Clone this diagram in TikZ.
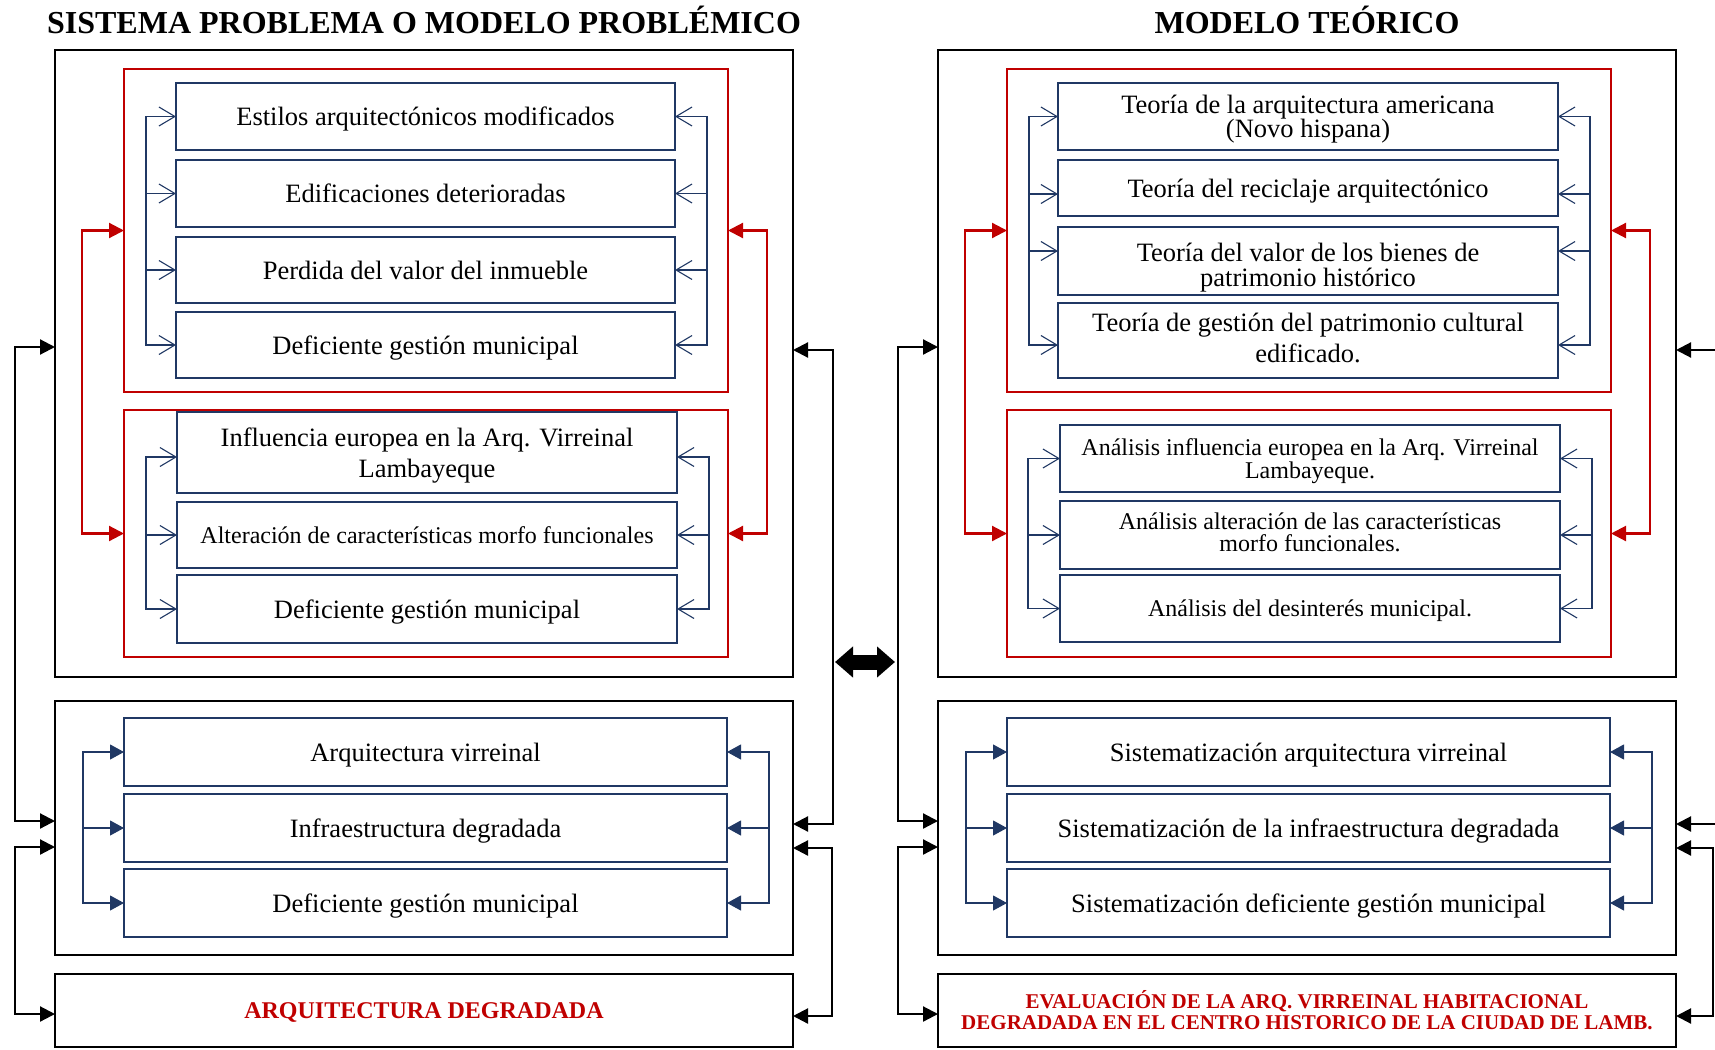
\documentclass[tikz,border=0pt]{standalone}
\usepackage{fontspec}
\setmainfont{Liberation Serif}
\usetikzlibrary{arrows.meta}
\definecolor{navy}{RGB}{32,56,100}
\definecolor{dred}{RGB}{192,0,0}
\newcommand\mytightlines{\lineskiplimit=-50pt\relax}
\begin{document}
\begin{tikzpicture}[x=1pt,y=-1pt,
  box/.style={draw=navy, line width=1.3pt, rectangle, outer sep=0pt, inner sep=2pt, text depth=0pt,
    anchor=north west, align=center, font=\fontsize{26.5}{28}\selectfont, text=black},
  smallbox/.style={box, font=\fontsize{24}{23}\selectfont},
  frame/.style={draw=black, line width=2.2pt, rectangle, outer sep=0pt, anchor=north west},
  redframe/.style={draw=dred, line width=2.2pt, rectangle, outer sep=0pt, anchor=north west},
  blk/.style={draw=black, line width=2.2pt, {Triangle[length=15pt,width=15pt]}-{Triangle[length=15pt,width=15pt]}},
  redarr/.style={draw=dred, line width=2.2pt, {Triangle[length=15pt,width=15pt]}-{Triangle[length=15pt,width=15pt]}},
  blline/.style={draw=navy, line width=1.1pt, line cap=rect},
  blbarb/.style={draw=navy, line width=1.1pt, -{Straight Barb[length=16pt,width=19pt]}},
  bltri/.style={draw=navy, line width=1.1pt, -{Triangle[length=14pt,width=15pt]}},
  title/.style={font=\bfseries\fontsize{32}{34}\selectfont}
]
\useasboundingbox (0,0) rectangle (1715,1049);

% titles
\node[title] (T1) at (424,20) {SISTEMA PROBLEMA O MODELO PROBLÉMICO};
\node[title] (T2) at (1307,20) {MODELO TEÓRICO};

% ---------------- left panel ----------------
\node[frame, minimum width=738pt, minimum height=627pt] (Lo1) at (55,50) {};
\node[redframe, minimum width=604pt, minimum height=323pt] (LR1) at (124,69) {};
\node[redframe, minimum width=604pt, minimum height=247pt] (LR2) at (124,410) {};
\node[box, minimum width=499pt, minimum height=67pt] (L1) at (176,83) {Estilos arquitectónicos modificados};
\node[box, minimum width=499pt, minimum height=67pt] (L2) at (176,160) {Edificaciones deterioradas};
\node[box, minimum width=499pt, minimum height=66pt] (L3) at (176,237) {Perdida del valor del inmueble};
\node[box, minimum width=499pt, minimum height=66pt] (L4) at (176,312) {Deficiente gestión municipal};
\node[box, minimum width=500pt, minimum height=81pt, font=\fontsize{26.5}{31}\selectfont] (L5) at (177,412) {Influencia europea en la Arq. Virreinal\\Lambayeque};
\node[smallbox, minimum width=500pt, minimum height=66pt] (L6) at (177,502) {Alteración de características morfo funcionales};
\node[box, minimum width=500pt, minimum height=68pt] (L7) at (177,575) {Deficiente gestión municipal};
\node[frame, minimum width=738pt, minimum height=254pt] (Lo2) at (55,701) {};
\node[box, minimum width=603pt, minimum height=68pt] (L8) at (124,718) {Arquitectura virreinal};
\node[box, minimum width=603pt, minimum height=68pt] (L9) at (124,794) {Infraestructura degradada};
\node[box, minimum width=603pt, minimum height=68pt] (L10) at (124,869) {Deficiente gestión municipal};
\node[frame, minimum width=738pt, minimum height=73pt, text depth=0pt, text=dred, font=\bfseries\fontsize{24}{26}\selectfont] (LoB) at (55,974) {ARQUITECTURA DEGRADADA};

% ---------------- right panel ----------------
\node[frame, minimum width=738pt, minimum height=627pt] (Ro1) at (938,50) {};
\node[redframe, minimum width=604pt, minimum height=323pt] (RR1) at (1007,69) {};
\node[redframe, minimum width=604pt, minimum height=247pt] (RR2) at (1007,410) {};
\node[box, minimum width=500pt, minimum height=67pt, font=\fontsize{26.5}{24.3}\selectfont\mytightlines] (R1) at (1058,83) {Teoría de la arquitectura americana\\(Novo hispana)};
\node[box, minimum width=500pt, minimum height=56pt] (R2) at (1058,160) {Teoría del reciclaje arquitectónico};
\node[box, minimum width=500pt, minimum height=68pt, font=\fontsize{26.5}{25}\selectfont] (R3) at (1058,227) {\rule{0pt}{25.5pt}Teoría del valor de los bienes de\\patrimonio histórico};
\node[box, minimum width=500pt, minimum height=75pt, text depth=6.4pt, font=\fontsize{26.5}{31}\selectfont] (R4) at (1058,303) {Teoría de gestión del patrimonio cultural\\edificado.};
\node[smallbox, minimum width=500pt, minimum height=67pt] (R5) at (1060,425) {Análisis influencia europea en la Arq. Virreinal\\Lambayeque.};
\node[smallbox, minimum width=500pt, minimum height=68pt, text depth=4.8pt, font=\fontsize{24}{22}\selectfont] (R6) at (1060,501) {Análisis alteración de las características\\morfo funcionales.};
\node[smallbox, minimum width=500pt, minimum height=67pt] (R7) at (1060,575) {Análisis del desinterés municipal.};
\node[frame, minimum width=738pt, minimum height=254pt] (Ro2) at (938,701) {};
\node[box, minimum width=603pt, minimum height=68pt] (R8) at (1007,718) {Sistematización arquitectura virreinal};
\node[box, minimum width=603pt, minimum height=68pt] (R9) at (1007,794) {Sistematización de la infraestructura degradada};
\node[box, minimum width=603pt, minimum height=68pt] (R10) at (1007,869) {Sistematización deficiente gestión municipal};
\node[frame, minimum width=738pt, minimum height=73pt, text=dred, align=center, font=\bfseries\fontsize{21}{21}\selectfont] (RoB) at (938,974) {EVALUACIÓN DE LA ARQ. VIRREINAL HABITACIONAL\\DEGRADADA EN EL CENTRO HISTORICO DE LA CIUDAD DE LAMB.};

% ---------------- blue brackets ----------------
% left top
\foreach \n in {L1,L2,L3,L4}{
  \draw[blbarb] ([xshift=-30pt]\n.west) -- (\n.west);
  \draw[blbarb] ([xshift=32pt]\n.east) -- (\n.east);
}
\draw[blline] ([xshift=-30pt]L1.west) -- ([xshift=-30pt]L4.west);
\draw[blline] ([xshift=32pt]L1.east) -- ([xshift=32pt]L4.east);
% left middle
\foreach \n/\s in {L5/-4.5,L6/0,L7/0}{
  \draw[blbarb] ([xshift=-31pt,yshift=\s pt]\n.west) -- ([yshift=\s pt]\n.west);
  \draw[blbarb] ([xshift=32pt,yshift=\s pt]\n.east) -- ([yshift=\s pt]\n.east);
}
\draw[blline] ([xshift=-31pt,yshift=-4.5pt]L5.west) -- ([xshift=-31pt]L7.west);
\draw[blline] ([xshift=32pt,yshift=-4.5pt]L5.east) -- ([xshift=32pt]L7.east);
% left lower
\foreach \n in {L8,L9,L10}{
  \draw[bltri] ([xshift=-41pt]\n.west) -- (\n.west);
  \draw[bltri] ([xshift=42pt]\n.east) -- (\n.east);
}
\draw[blline] ([xshift=-41pt]L8.west) -- ([xshift=-41pt]L10.west);
\draw[blline] ([xshift=42pt]L8.east) -- ([xshift=42pt]L10.east);

% right top
\foreach \n/\s in {R1/0,R2/-6,R3/10,R4/-4.5}{
  \draw[blbarb] ([xshift=-29pt,yshift=\s pt]\n.west) -- ([yshift=\s pt]\n.west);
  \draw[blbarb] ([xshift=32pt,yshift=\s pt]\n.east) -- ([yshift=\s pt]\n.east);
}
\draw[blline] ([xshift=-29pt]R1.west) -- ([xshift=-29pt,yshift=-4.5pt]R4.west);
\draw[blline] ([xshift=32pt]R1.east) -- ([xshift=32pt,yshift=-4.5pt]R4.east);
% right middle
\foreach \n in {R5,R6,R7}{
  \draw[blbarb] ([xshift=-32pt]\n.west) -- (\n.west);
  \draw[blbarb] ([xshift=32pt]\n.east) -- (\n.east);
}
\draw[blline] ([xshift=-32pt]R5.west) -- ([xshift=-32pt]R7.west);
\draw[blline] ([xshift=32pt]R5.east) -- ([xshift=32pt]R7.east);
% right lower
\foreach \n in {R8,R9,R10}{
  \draw[bltri] ([xshift=-41pt]\n.west) -- (\n.west);
  \draw[bltri] ([xshift=42pt]\n.east) -- (\n.east);
}
\draw[blline] ([xshift=-41pt]R8.west) -- ([xshift=-41pt]R10.west);
\draw[blline] ([xshift=42pt]R8.east) -- ([xshift=42pt]R10.east);

% ---------------- red connectors ----------------
\draw[redarr] (LR1.west) -- ++(-42,0) |- (LR2.west);
\draw[redarr] (LR1.east) -- ++(39,0) |- (LR2.east);
\draw[redarr] (RR1.west) -- ++(-42,0) |- (RR2.west);
\draw[redarr] (RR1.east) -- ++(39,0) |- (RR2.east);

% ---------------- black connectors ----------------
\draw[blk] ([yshift=16.5pt]Lo1.west) -- ++(-40,0) |- ([yshift=7pt]Lo2.west);
\draw[blk] ([yshift=-19pt]Lo2.west) -- ++(-40,0) |- ([yshift=-3.5pt]LoB.west);
\draw[blk] ([yshift=13.5pt]Lo1.east) -- ++(40,0) |- ([yshift=4pt]Lo2.east);
\draw[blk] ([yshift=-20pt]Lo2.east) -- ++(39,0) |- ([yshift=-5.5pt]LoB.east);
\draw[blk] ([yshift=16.5pt]Ro1.west) -- ++(-40,0) |- ([yshift=7pt]Ro2.west);
\draw[blk] ([yshift=-19pt]Ro2.west) -- ++(-40,0) |- ([yshift=-3.5pt]RoB.west);
\draw[blk] ([yshift=13.5pt]Ro1.east) -- ++(46,0) |- ([yshift=4pt]Ro2.east);
\draw[blk] ([yshift=-20pt]Ro2.east) -- ++(37,0) |- ([yshift=-5.5pt]RoB.east);

% double arrow between panels
\coordinate (DA1) at (835,662);
\coordinate (DA2) at (895,662);
\draw[line width=15pt, {Triangle[length=18pt,width=30pt]}-{Triangle[length=18pt,width=30pt]}] (DA1) -- (DA2);
\end{tikzpicture}
\end{document}
